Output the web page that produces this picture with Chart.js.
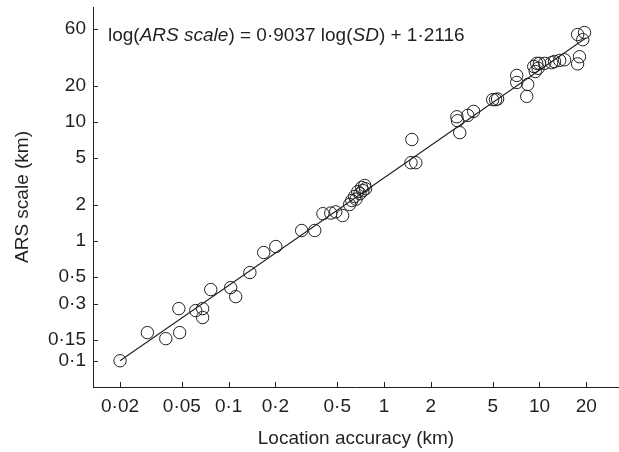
<!DOCTYPE html>
<html>
<head>
<meta charset="utf-8">
<script src="https://cdn.jsdelivr.net/npm/chart.js@4.4.1/dist/chart.umd.min.js"></script>
<style>
	html, body { margin: 0; padding: 0; background: #fff; }
	#wrap { width: 619px; height: 452px; position: relative; }
</style>
</head>
<body>
<div id="wrap"><canvas id="scatterChart"></canvas></div>
<script>
// Location accuracy (km) and ARS scale (km).
const accuracyKm = [
	0.02, 0.030, 0.0394, 0.0478, 0.0484, 0.0614, 0.068, 0.068, 0.0767, 0.103,
	0.111, 0.137, 0.168, 0.201, 0.295, 0.358, 0.404, 0.454, 0.489, 0.541,
	0.60, 0.62, 0.646, 0.66, 0.677, 0.70, 0.718, 0.73, 0.751, 0.76,
	1.49, 1.51, 1.60, 2.94, 2.97, 3.07, 3.46, 3.77, 5.0, 5.22, 5.38,
	7.14, 7.14, 8.28, 8.4, 9.19, 9.4, 9.6, 9.8, 10.0, 10.8,
	11.97, 12.5, 13.5, 14.5, 17.6, 17.6, 18.1, 19.0, 19.5
];
const arsScaleKm = [
	0.1, 0.172, 0.153, 0.273, 0.172, 0.263, 0.273, 0.23, 0.394, 0.409,
	0.344, 0.547, 0.805, 0.903, 1.23, 1.23, 1.70, 1.72, 1.76, 1.64,
	2.03, 2.19, 2.37, 2.25, 2.6, 2.5, 2.82, 2.65, 2.93, 2.75,
	4.54, 7.1, 4.54, 11.0, 10.2, 8.1, 11.3, 12.2, 15.3, 15.3, 15.5,
	24.4, 21.3, 16.3, 20.5, 29.0, 26.3, 30.8, 28.0, 30.8, 30.8,
	31.2, 31.9, 32.6, 33.0, 53.7, 30.5, 35.0, 48.6, 55.8
];

// fitted line end points
const fitX = [0.02, 20];
const fitY = [0.1, 50.5];

const xTicks = [0.02, 0.05, 0.1, 0.2, 0.5, 1, 2, 5, 10, 20];
const yTicks = [0.1, 0.15, 0.3, 0.5, 1, 2, 5, 10, 20, 60];
const xRange = [0.0134, 32.5];
const yRange = [0.0603, 91.2];

const inkColor = "#231f20";
const fontFamily = "'Liberation Sans', Arial, Helvetica, sans-serif";
const fontSize = 19;

function fmtTick(v) {
	return String(v).replace(".", "\u00b7");
}

function noPadding(s) {
	s.paddingTop = 0;
	s.paddingBottom = 0;
	s.paddingLeft = 0;
	s.paddingRight = 0;
}

// ticks point into the plot, and the equation has italic parts
const innerTicks = {
	id: "innerTicks",
	afterDraw(chart) {
		const { ctx, chartArea, scales } = chart;
		ctx.save();
		ctx.strokeStyle = inkColor;
		ctx.lineWidth = 1;
		ctx.beginPath();
		xTicks.forEach(v => {
			const px = Math.round(scales.x.getPixelForValue(v)) + 0.5;
			ctx.moveTo(px, chartArea.bottom);
			ctx.lineTo(px, chartArea.bottom - 5);
		});
		yTicks.forEach(v => {
			const py = Math.round(scales.y.getPixelForValue(v)) + 0.5;
			ctx.moveTo(chartArea.left, py);
			ctx.lineTo(chartArea.left + 5, py);
		});
		ctx.stroke();

		const parts = [
			["log(", false], ["ARS scale", true], [") = 0\u00b79037 log(", false],
			["SD", true], [") + 1\u00b72116", false]
		];
		let x = chartArea.left + 15;
		const y = chartArea.top + 34;
		ctx.fillStyle = inkColor;
		ctx.textBaseline = "alphabetic";
		ctx.textAlign = "left";
		parts.forEach(([txt, italic]) => {
			ctx.font = (italic ? "italic " : "") + fontSize + "px " + fontFamily;
			ctx.fillText(txt, x, y);
			x += ctx.measureText(txt).width;
		});
		ctx.restore();
	}
};

document.addEventListener("DOMContentLoaded", function() {
	const points = accuracyKm.map((x, i) => ({ x: x, y: arsScaleKm[i] }));
	const fitLine = fitX.map((x, i) => ({ x: x, y: fitY[i] }));

	const ctx = document.getElementById("scatterChart").getContext("2d");
	new Chart(ctx, {
		type: "scatter",
		data: {
			datasets: [
				{
					data: points,
					pointStyle: "circle",
					pointRadius: 6.2,
					pointHoverRadius: 6.2,
					borderWidth: 1,
					borderColor: inkColor,
					backgroundColor: "rgba(0,0,0,0)"
				},
				{
					type: "line",
					data: fitLine,
					showLine: true,
					pointRadius: 0,
					borderWidth: 1.1,
					borderColor: inkColor,
					fill: false
				}
			]
		},
		options: {
			responsive: true,
			maintainAspectRatio: false,
			animation: false,
			layout: { autoPadding: false, padding: { top: 7, left: 0, right: 0, bottom: 0 } },
			plugins: {
				legend: { display: false },
				tooltip: { enabled: false }
			},
			scales: {
				x: {
					type: "logarithmic",
					bounds: "data",
					min: xRange[0],
					max: xRange[1],
					afterBuildTicks: s => { s.ticks = xTicks.map(v => ({ value: v })); },
					afterFit: s => { s.height = 65; noPadding(s); },
					grid: { display: false, drawTicks: false },
					border: { display: true, color: inkColor, width: 1 },
					ticks: {
						padding: 8,
						autoSkip: false,
						maxRotation: 0,
						color: inkColor,
						font: { family: fontFamily, size: fontSize },
						callback: v => fmtTick(v)
					},
					title: {
						display: true,
						text: "Location accuracy (km)",
						color: inkColor,
						font: { family: fontFamily, size: fontSize },
						padding: { top: 0, bottom: 2 }
					}
				},
				y: {
					type: "logarithmic",
					bounds: "data",
					min: yRange[0],
					max: yRange[1],
					afterBuildTicks: s => { s.ticks = yTicks.map(v => ({ value: v })); },
					afterFit: s => { s.width = 93; noPadding(s); },
					grid: { display: false, drawTicks: false },
					border: { display: true, color: inkColor, width: 1 },
					ticks: {
						padding: 7,
						autoSkip: false,
						color: inkColor,
						font: { family: fontFamily, size: fontSize },
						callback: v => fmtTick(v)
					},
					title: {
						display: true,
						text: "ARS scale (km)",
						color: inkColor,
						font: { family: fontFamily, size: fontSize },
						padding: { top: 11, bottom: 0 }
					}
				}
			}
		},
		plugins: [innerTicks]
	});
});
</script>
</body>
</html>
